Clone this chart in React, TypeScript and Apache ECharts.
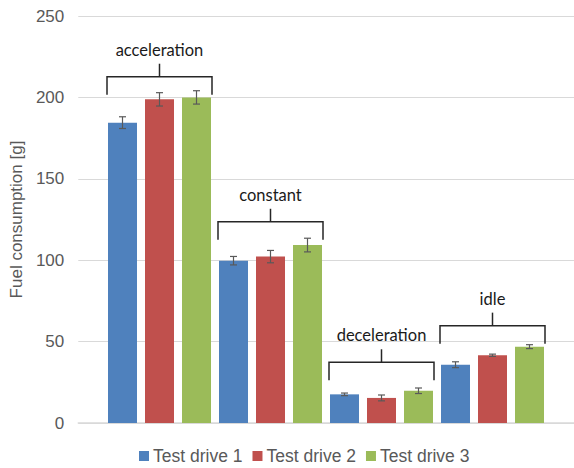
import React, { useEffect, useRef } from "react";
import * as echarts from "echarts";

const CATEGORIES = ["acceleration", "constant", "deceleration", "idle"];
const SERIES_NAMES = ["Test drive 1", "Test drive 2", "Test drive 3"];
const DRIVE1 = [184.5, 99.7, 17.6, 35.8];
const DRIVE2 = [198.8, 102.2, 15.4, 41.6];
const DRIVE3 = [200.0, 109.3, 19.8, 46.9];
const ERR1 = [3.6, 2.6, 0.8, 1.8];
const ERR2 = [4.1, 3.8, 1.8, 0.7];
const ERR3 = [4.1, 4.2, 1.7, 1.2];
const BRACKET_LEVELS = [212.7, 123.6, 37.3, 59.8];
const Y_TICKS = [0, 50, 100, 150, 200, 250];

const COLORS = ["#4F81BD", "#C0504D", "#9BBB59"];
const BAR_W = 29;
const BAR_GAP = 8;

export default function App() {
  const ref = useRef<HTMLDivElement>(null);
  useEffect(() => {
    if (!ref.current) return;
    const chart = echarts.init(ref.current, undefined, { renderer: "svg" });
    const values = [DRIVE1, DRIVE2, DRIVE3];
    const errs = [ERR1, ERR2, ERR3];
    const errData: number[][] = [];
    values.forEach((arr, s) =>
      arr.forEach((v, c) => errData.push([c, s, v, errs[s][c]]))
    );
    const bracketData = BRACKET_LEVELS.map((l, c) => [c, l]);
    const top = 16;
    const bottom = 45;
    const yMin = Y_TICKS[0];
    const yMax = Y_TICKS[Y_TICKS.length - 1];
    const yStep = Y_TICKS[1] - Y_TICKS[0];

    chart.setOption({
      animation: false,
      grid: [
        { left: 76, right: 0, top, bottom },
        { left: 104, right: 26, top, bottom },
      ],
      legend: {
        data: SERIES_NAMES,
        left: 139,
        top: 446,
        padding: 0,
        icon: "rect",
        itemWidth: 10,
        itemHeight: 10,
        itemGap: 10,
        textStyle: { fontFamily: "Liberation Sans", fontSize: 17.5, lineHeight: 20, color: "#595959", padding: [0, 0, 0, -1] },
      },
      xAxis: [
        {
          type: "category",
          gridIndex: 0,
          data: [""],
          axisLine: { show: true, lineStyle: { color: "#D9D9D9", width: 1.5 } },
          axisTick: { show: false },
          axisLabel: { show: false },
        },
        {
          type: "category",
          gridIndex: 1,
          data: CATEGORIES,
          show: false,
        },
      ],
      yAxis: [
        {
          type: "value",
          gridIndex: 0,
          min: yMin,
          max: yMax,
          interval: yStep,
          name: "Fuel consumption [g]",
          nameLocation: "middle",
          nameGap: 51,
          nameTextStyle: { fontFamily: "Liberation Sans", fontSize: 17, color: "#595959" },
          axisLine: { show: false },
          axisTick: { show: false },
          axisLabel: { fontFamily: "Liberation Sans", fontSize: 17, color: "#595959", margin: 14 },
          splitLine: { lineStyle: { color: "#D9D9D9", width: 1.2 } },
        },
        {
          type: "value",
          gridIndex: 1,
          min: yMin,
          max: yMax,
          interval: yStep,
          show: false,
          splitLine: { show: false },
        },
      ],
      series: [
        ...values.map((arr, s) => ({
          type: "bar",
          name: SERIES_NAMES[s],
          xAxisIndex: 1,
          yAxisIndex: 1,
          data: arr,
          barWidth: BAR_W,
          barGap: (BAR_GAP / BAR_W) * 100 + "%",
          itemStyle: { color: COLORS[s] },
        })),
        {
          type: "custom",
          xAxisIndex: 1,
          yAxisIndex: 1,
          data: errData,
          encode: { x: 0, y: 2 },
          clip: false,
          z: 5,
          renderItem: (params: any, api: any) => {
            const c = api.value(0);
            const s = api.value(1);
            const v = api.value(2);
            const e = api.value(3);
            const off = (s - 1) * (BAR_W + BAR_GAP);
            const pHi = api.coord([c, v + e]);
            const pLo = api.coord([c, v - e]);
            const x = pHi[0] + off;
            const cap = 3.5;
            const style = { stroke: "#595959", lineWidth: 1.2, fill: "none" };
            return {
              type: "group",
              children: [
                { type: "line", shape: { x1: x, y1: pHi[1], x2: x, y2: pLo[1] }, style },
                { type: "line", shape: { x1: x - cap, y1: pHi[1], x2: x + cap, y2: pHi[1] }, style },
                { type: "line", shape: { x1: x - cap, y1: pLo[1], x2: x + cap, y2: pLo[1] }, style },
              ],
            };
          },
        },
        {
          type: "custom",
          xAxisIndex: 1,
          yAxisIndex: 1,
          data: bracketData,
          encode: { x: 0, y: 1 },
          clip: false,
          z: 6,
          renderItem: (params: any, api: any) => {
            const c = api.value(0);
            const l = api.value(1);
            const p = api.coord([c, l]);
            const half = (3 * BAR_W + 2 * BAR_GAP) / 2 + 1;
            const drop = 18;
            const stem = 13;
            const style = { stroke: "#262626", lineWidth: 1.5, fill: "none" };
            return {
              type: "group",
              children: [
                {
                  type: "polyline",
                  shape: {
                    points: [
                      [p[0] - half, p[1] + drop],
                      [p[0] - half, p[1]],
                      [p[0] + half, p[1]],
                      [p[0] + half, p[1] + drop],
                    ],
                  },
                  style,
                },
                { type: "line", shape: { x1: p[0], y1: p[1], x2: p[0], y2: p[1] - stem }, style },
                {
                  type: "text",
                  x: p[0],
                  y: p[1] - stem - 14,
                  style: {
                    text: CATEGORIES[c],
                    fontFamily: "Lato",
                    fontSize: 16.5,
                    fill: "#1a1a1a",
                    align: "center",
                    verticalAlign: "middle",
                  },
                },
              ],
            };
          },
        },
      ],
    });
    return () => chart.dispose();
  }, []);
  return (
    <div
      ref={ref}
      style={{ position: "fixed", left: 0, top: 0, width: 574, height: 468, background: "#fff" }}
    />
  );
}
